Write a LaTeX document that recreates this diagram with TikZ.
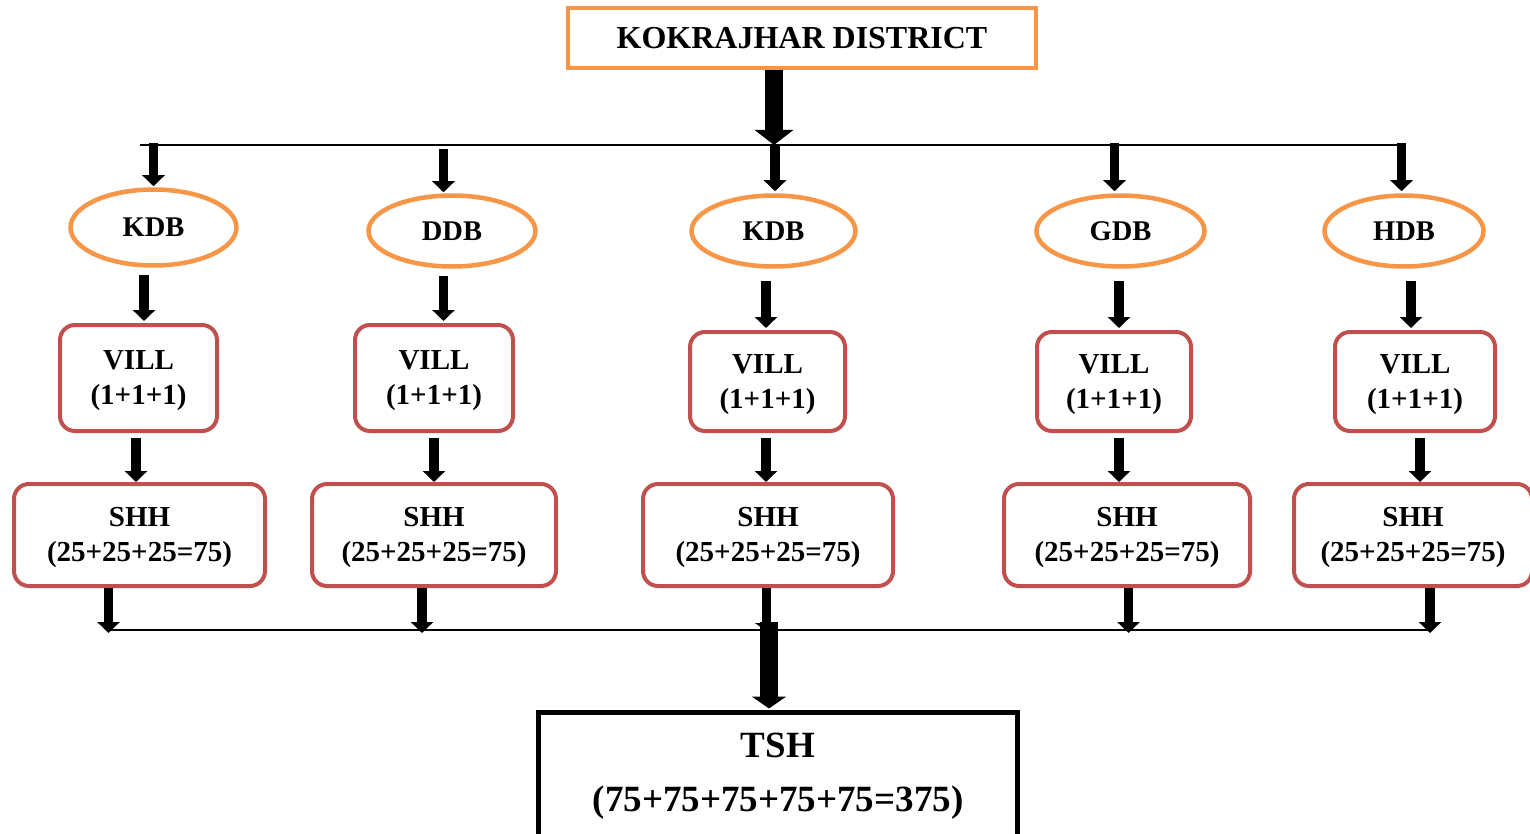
\documentclass[tikz,border=0pt]{standalone}
\usepackage{fontspec}
\setmainfont{Liberation Serif}
\usetikzlibrary{arrows.meta,shapes.geometric}
\definecolor{org}{HTML}{F79646}
\definecolor{rd}{HTML}{C0504D}
\newcommand{\topstrut}{\rule{0pt}{25pt}}
\tikzset{
  topbox/.style={draw=org, line width=4pt, inner sep=0pt, minimum width=468pt, minimum height=60pt,
    font=\bfseries\fontsize{32}{38}\selectfont},
  oval/.style={ellipse, draw=org, line width=4.5pt, inner sep=0pt,
    font=\bfseries\fontsize{28.5}{34}\selectfont},
  rbox/.style={draw=rd, line width=4pt, rounded corners=15pt, inner sep=0pt, align=center,
    font=\bfseries\fontsize{29}{35}\selectfont},
  tbox/.style={draw=black, line width=5pt, inner sep=0pt, align=center,
    font=\bfseries\fontsize{37}{54}\selectfont},
  arr/.style={line width=9.5pt, -{Triangle[width=22pt,length=11pt]}},
  bigarr/.style={line width=18pt, -{Triangle[width=38pt,length=15pt]}},
  hugearr/.style={line width=18pt, -{Triangle[width=34pt,length=12pt]}},
  bar/.style={line width=2pt},
}
\begin{document}
\begin{tikzpicture}[x=1pt,y=-1pt]
\useasboundingbox (0,0) rectangle (1530,834);
\fill[white] (0,0) rectangle (1530,834);

% nodes
\node[topbox] (top) at (802,38) {KOKRAJHAR DISTRICT};

\node[oval, minimum width=166pt, minimum height=76pt] (e1) at (153.5,227.5) {KDB};
\node[oval, minimum width=167pt, minimum height=71pt] (e2) at (452,231) {DDB};
\node[oval, minimum width=164pt, minimum height=71pt] (e3) at (773.5,231) {KDB};
\node[oval, minimum width=168pt, minimum height=71pt] (e4) at (1120.5,231) {GDB};
\node[oval, minimum width=159pt, minimum height=71pt] (e5) at (1404,231) {HDB};

\node[rbox, minimum width=157pt, minimum height=106pt] (v1) at (138.5,378) {\topstrut VILL\\(1+1+1)};
\node[rbox, minimum width=158pt, minimum height=106pt] (v2) at (434,378) {\topstrut VILL\\(1+1+1)};
\node[rbox, minimum width=155pt, minimum height=99pt] (v3) at (767.5,381.5) {\topstrut VILL\\(1+1+1)};
\node[rbox, minimum width=154pt, minimum height=99pt] (v4) at (1114,381.5) {\topstrut VILL\\(1+1+1)};
\node[rbox, minimum width=160pt, minimum height=99pt] (v5) at (1415,381.5) {\topstrut VILL\\(1+1+1)};

\node[rbox, minimum width=251pt, minimum height=102pt] (s1) at (139.5,535) {\topstrut SHH\\(25+25+25=75)};
\node[rbox, minimum width=244pt, minimum height=102pt] (s2) at (434,535) {\topstrut SHH\\(25+25+25=75)};
\node[rbox, minimum width=250pt, minimum height=102pt] (s3) at (768,535) {\topstrut SHH\\(25+25+25=75)};
\node[rbox, minimum width=246pt, minimum height=102pt] (s4) at (1127,535) {\topstrut SHH\\(25+25+25=75)};
\node[rbox, minimum width=238pt, minimum height=102pt] (s5) at (1413,535) {\topstrut SHH\\(25+25+25=75)};

\node[tbox, minimum width=479pt, minimum height=128pt] (tsh) at (778,776) {TSH\\(75+75+75+75+75=375)};

% top distribution line
\coordinate (tl) at (140,145);
\coordinate (tr) at (1405,145);
\draw[bar] (tl) -- (tr);
\coordinate (j1) at (774,145);
\draw[bigarr] (top.south -| j1) -- (j1);
\draw[arr] ([xshift=1pt]j1) -- ([xshift=1pt,yshift=2pt]j1 |- e3.north);

\coordinate (b1) at (153.5,143);
\coordinate (b2) at (443.5,149);
\coordinate (b4) at (1114.5,143);
\coordinate (b5) at (1401.5,143);
\draw[arr] (b1) -- ([yshift=1pt]b1 |- e1.north);
\draw[arr] (b2) -- ([yshift=1pt]b2 |- e2.north);
\draw[arr] (b4) -- ([yshift=2pt]b4 |- e4.north);
\draw[arr] (b5) -- ([yshift=2pt]b5 |- e5.north);

% ellipse -> VILL
\coordinate (c1) at (144,0);
\coordinate (c2) at (443.5,0);
\coordinate (c3) at (766,0);
\coordinate (c4) at (1119,0);
\coordinate (c5) at (1411,0);
\draw[arr] ([yshift=-7pt]c1 |- e1.south) -- ([yshift=2pt]c1 |- v1.north);
\draw[arr] ([yshift=-7pt]c2 |- e2.south) -- ([yshift=2pt]c2 |- v2.north);
\draw[arr] ([yshift=-12pt]c3 |- e3.south) -- ([yshift=2pt]c3 |- v3.north);
\draw[arr] ([yshift=-12pt]c4 |- e4.south) -- ([yshift=2pt]c4 |- v4.north);
\draw[arr] ([yshift=-12pt]c5 |- e5.south) -- ([yshift=2pt]c5 |- v5.north);

% VILL -> SHH
\coordinate (d1) at (136,0);
\coordinate (d2) at (434,0);
\coordinate (d3) at (766,0);
\coordinate (d4) at (1119,0);
\coordinate (d5) at (1420,0);
\draw[arr] ([yshift=-5pt]d1 |- v1.south) -- (d1 |- s1.north);
\draw[arr] ([yshift=-5pt]d2 |- v2.south) -- (d2 |- s2.north);
\draw[arr] ([yshift=-5pt]d3 |- v3.south) -- (d3 |- s3.north);
\draw[arr] ([yshift=-5pt]d4 |- v4.south) -- (d4 |- s4.north);
\draw[arr] ([yshift=-5pt]d5 |- v5.south) -- (d5 |- s5.north);

% SHH -> bottom line
\coordinate (bl) at (107,630);
\coordinate (br) at (1430,630);
\draw[bar] (bl) -- (br);
\coordinate (f1) at (108.5,633);
\coordinate (f2) at (422,633);
\coordinate (f3) at (766.5,631);
\coordinate (f4) at (1128.5,633);
\coordinate (f5) at (1430,633);
\draw[arr] (f1 |- s1.south) -- (f1);
\draw[arr] (f2 |- s2.south) -- (f2);
\draw[arr, line width=9pt, -{Triangle[width=23pt,length=8pt]}] (f3 |- s3.south) -- (f3);
\draw[arr] (f4 |- s4.south) -- (f4);
\draw[arr] (f5 |- s5.south) -- (f5);

% bottom thick arrow into TSH
\coordinate (j2) at (769,622);
\draw[hugearr] (j2) -- ([yshift=1pt]j2 |- tsh.north);
\end{tikzpicture}
\end{document}
